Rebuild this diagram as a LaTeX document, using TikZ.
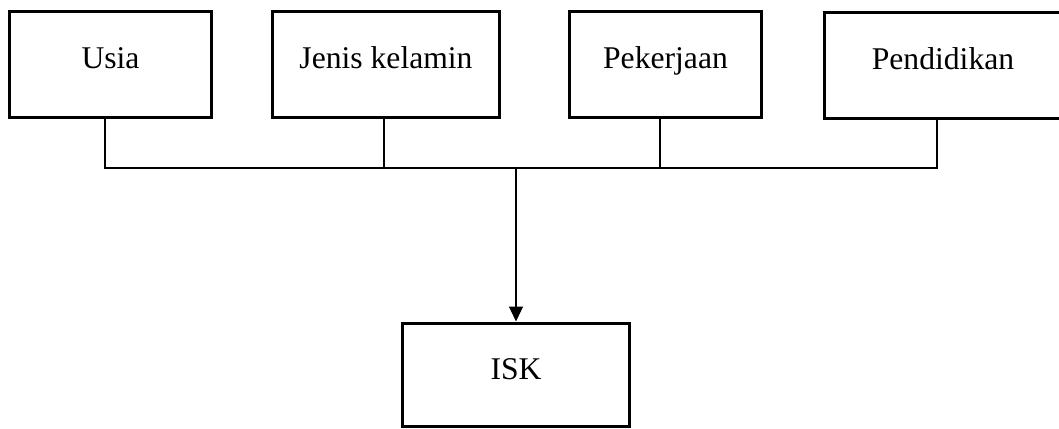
\documentclass[tikz,border=0pt]{standalone}
\usepackage{fontspec}
\setmainfont{Liberation Serif}
\usetikzlibrary{positioning}
\usetikzlibrary{arrows.meta}
\tikzset{
  box/.style = {rectangle, draw, line width=1.7pt, minimum height=2.12cm,
   text height=0.41cm, text depth=0.25cm,
   font=\fontsize{18}{22}\selectfont},
  wire/.style = {line width=0.6pt},
}

\begin{document}
\begin{tikzpicture}[x=0.02cm, y=-0.02cm]
  \useasboundingbox (0,0) rectangle (1059,429);
  % faktor
  \node (usia) [box, minimum width=4.05cm] at (110.5,64.5) {Usia};
  \node (jenis) [box, minimum width=4.55cm] at (386,64.5) {Jenis kelamin};
  \node (kerja) [box, minimum width=3.85cm] at (665.5,64.5) {Pekerjaan};
  \node (didik) [box, minimum width=4.75cm] at (943,65.5) {Pendidikan};
  % hasil
  \node (isk) [box, minimum width=4.55cm, minimum height=2.08cm] at (516,375) {ISK};
  \coordinate (bus) at (516,168);
  \draw[wire] ([xshift=-0.11cm]usia.south) |- (bus);
  \draw[wire] ([xshift=-0.04cm]jenis.south) |- (bus);
  \draw[wire] ([xshift=-0.11cm]kerja.south) |- (bus);
  \draw[wire] ([xshift=-0.12cm]didik.south) |- (bus);
  \draw[wire, -{Triangle[length=0.3cm, width=0.28cm]}] (bus) -- (isk);
\end{tikzpicture}
\end{document}
